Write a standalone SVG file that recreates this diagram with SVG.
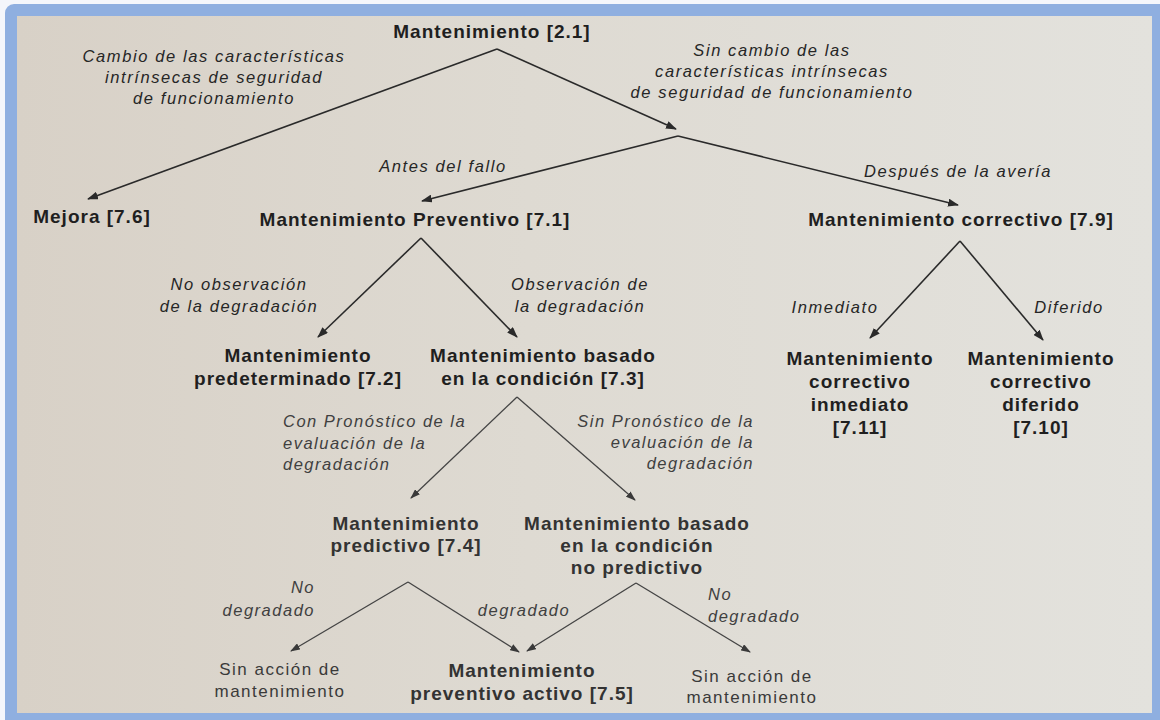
<svg xmlns="http://www.w3.org/2000/svg" width="1160" height="720" viewBox="0 0 1160 720">
<defs>
<linearGradient id="bg" x1="0" y1="0" x2="1" y2="0">
<stop offset="0" stop-color="#d8d1c7"/>
<stop offset="0.45" stop-color="#dedad2"/>
<stop offset="1" stop-color="#e3e2dd"/>
</linearGradient>
<marker id="ah" markerUnits="userSpaceOnUse" markerWidth="11" markerHeight="8" refX="10" refY="4" orient="auto">
<path d="M0,0 L11,4 L0,8 z" fill="#2a2a2a"/>
</marker>
<marker id="ah2" markerUnits="userSpaceOnUse" markerWidth="10" markerHeight="7" refX="9" refY="3.5" orient="auto">
<path d="M0,0 L10,3.5 L0,7 z" fill="#3a3a3a"/>
</marker>
</defs>
<style>
.node{font-family:"Liberation Sans",Arial,sans-serif;font-weight:bold;font-size:19px;letter-spacing:1px;fill:#1f1f1f;text-anchor:middle}
.node2{font-family:"Liberation Sans",Arial,sans-serif;font-weight:bold;font-size:19px;letter-spacing:1px;fill:#333;text-anchor:middle}
.plain{font-family:"Liberation Sans",Arial,sans-serif;font-size:17px;letter-spacing:1.5px;fill:#3a3a3a;text-anchor:middle}
.lab{font-family:"Liberation Sans",Arial,sans-serif;font-style:italic;font-size:16.5px;letter-spacing:1.6px;fill:#262626}
.lab2{font-family:"Liberation Sans",Arial,sans-serif;font-style:italic;font-size:16.5px;letter-spacing:1.5px;fill:#404040}
.mid{text-anchor:middle}.st{text-anchor:start}.en{text-anchor:end}
.c1{fill:none;stroke:#2a2a2a;stroke-width:1.6;marker-end:url(#ah)}
.c2{fill:none;stroke:#444;stroke-width:1.3;marker-end:url(#ah2)}
</style>
<rect x="0" y="0" width="1160" height="720" fill="#f4f6fb"/>
<rect x="5" y="4" width="1170" height="730" rx="9" fill="#8fafe0"/>
<rect x="17" y="16" width="1135" height="697" fill="url(#bg)"/>

<g id="connectors">
<path class="c1" d="M497,49 L88,199"/>
<path class="c1" d="M497,49 L676,129"/>
<path class="c1" d="M678,136 L422,201"/>
<path class="c1" d="M678,136 L958,205"/>
<path class="c1" d="M421,238 L318,337"/>
<path class="c1" d="M421,238 L517,337"/>
<path class="c1" d="M960,241 L870,338"/>
<path class="c1" d="M960,241 L1043,340"/>
<path class="c2" d="M517,397 L411,498"/>
<path class="c2" d="M517,397 L635,500"/>
<path class="c2" d="M408,582 L291,651"/>
<path class="c2" d="M408,582 L519,652"/>
<path class="c2" d="M636,583 L527,651"/>
<path class="c2" d="M636,583 L750,652"/>
</g>

<g id="labels">
<text class="lab mid" x="214" y="62">Cambio de las características</text>
<text class="lab mid" x="214" y="83">intrínsecas de seguridad</text>
<text class="lab mid" x="214" y="104">de funcionamiento</text>
<text class="lab mid" x="772" y="56">Sin cambio de las</text>
<text class="lab mid" x="772" y="77">características intrínsecas</text>
<text class="lab mid" x="772" y="98">de seguridad de funcionamiento</text>
<text class="lab mid" x="443" y="172">Antes del fallo</text>
<text class="lab mid" x="958" y="177">Después de la avería</text>
<text class="lab mid" x="239" y="290">No observación</text>
<text class="lab mid" x="239" y="312">de la degradación</text>
<text class="lab mid" x="580" y="290">Observación de</text>
<text class="lab mid" x="580" y="312">la degradación</text>
<text class="lab mid" x="835" y="313">Inmediato</text>
<text class="lab mid" x="1069" y="313">Diferido</text>
<text class="lab2 st" x="283" y="427">Con Pronóstico de la</text>
<text class="lab2 st" x="283" y="449">evaluación de la</text>
<text class="lab2 st" x="283" y="470">degradación</text>
<text class="lab2 en" x="754" y="427">Sin Pronóstico de la</text>
<text class="lab2 en" x="754" y="448">evaluación de la</text>
<text class="lab2 en" x="754" y="469">degradación</text>
<text class="lab2 en" x="315" y="593">No</text>
<text class="lab2 en" x="315" y="616">degradado</text>
<text class="lab2 mid" x="524" y="616">degradado</text>
<text class="lab2 st" x="708" y="600">No</text>
<text class="lab2 st" x="708" y="622">degradado</text>
</g>

<g id="n-mantenimiento"><text class="node" x="492" y="38">Mantenimiento [2.1]</text></g>
<g id="n-mejora"><text class="node" x="92" y="223">Mejora [7.6]</text></g>
<g id="n-preventivo"><text class="node" x="415" y="226">Mantenimiento Preventivo [7.1]</text></g>
<g id="n-correctivo"><text class="node" x="961" y="226">Mantenimiento correctivo [7.9]</text></g>
<g id="n-predeterminado">
<text class="node" x="298" y="362">Mantenimiento</text>
<text class="node" x="298" y="385">predeterminado [7.2]</text>
</g>
<g id="n-condicion">
<text class="node" x="543" y="362">Mantenimiento basado</text>
<text class="node" x="543" y="385">en la condición [7.3]</text>
</g>
<g id="n-inmediato">
<text class="node" x="860" y="365">Mantenimiento</text>
<text class="node" x="860" y="388">correctivo</text>
<text class="node" x="860" y="411">inmediato</text>
<text class="node" x="860" y="434">[7.11]</text>
</g>
<g id="n-diferido">
<text class="node" x="1041" y="365">Mantenimiento</text>
<text class="node" x="1041" y="388">correctivo</text>
<text class="node" x="1041" y="411">diferido</text>
<text class="node" x="1041" y="434">[7.10]</text>
</g>
<g id="n-predictivo">
<text class="node2" x="406" y="530">Mantenimiento</text>
<text class="node2" x="406" y="552">predictivo [7.4]</text>
</g>
<g id="n-nopredictivo">
<text class="node2" x="637" y="530">Mantenimiento basado</text>
<text class="node2" x="637" y="552">en la condición</text>
<text class="node2" x="637" y="574">no predictivo</text>
</g>
<g id="n-sinaccion1">
<text class="plain" x="280" y="675">Sin acción de</text>
<text class="plain" x="280" y="697">mantenimiento</text>
</g>
<g id="n-activo">
<text class="node2" x="522" y="677">Mantenimiento</text>
<text class="node2" x="522" y="700">preventivo activo [7.5]</text>
</g>
<g id="n-sinaccion2">
<text class="plain" x="752" y="682">Sin acción de</text>
<text class="plain" x="752" y="703">mantenimiento</text>
</g>
</svg>
